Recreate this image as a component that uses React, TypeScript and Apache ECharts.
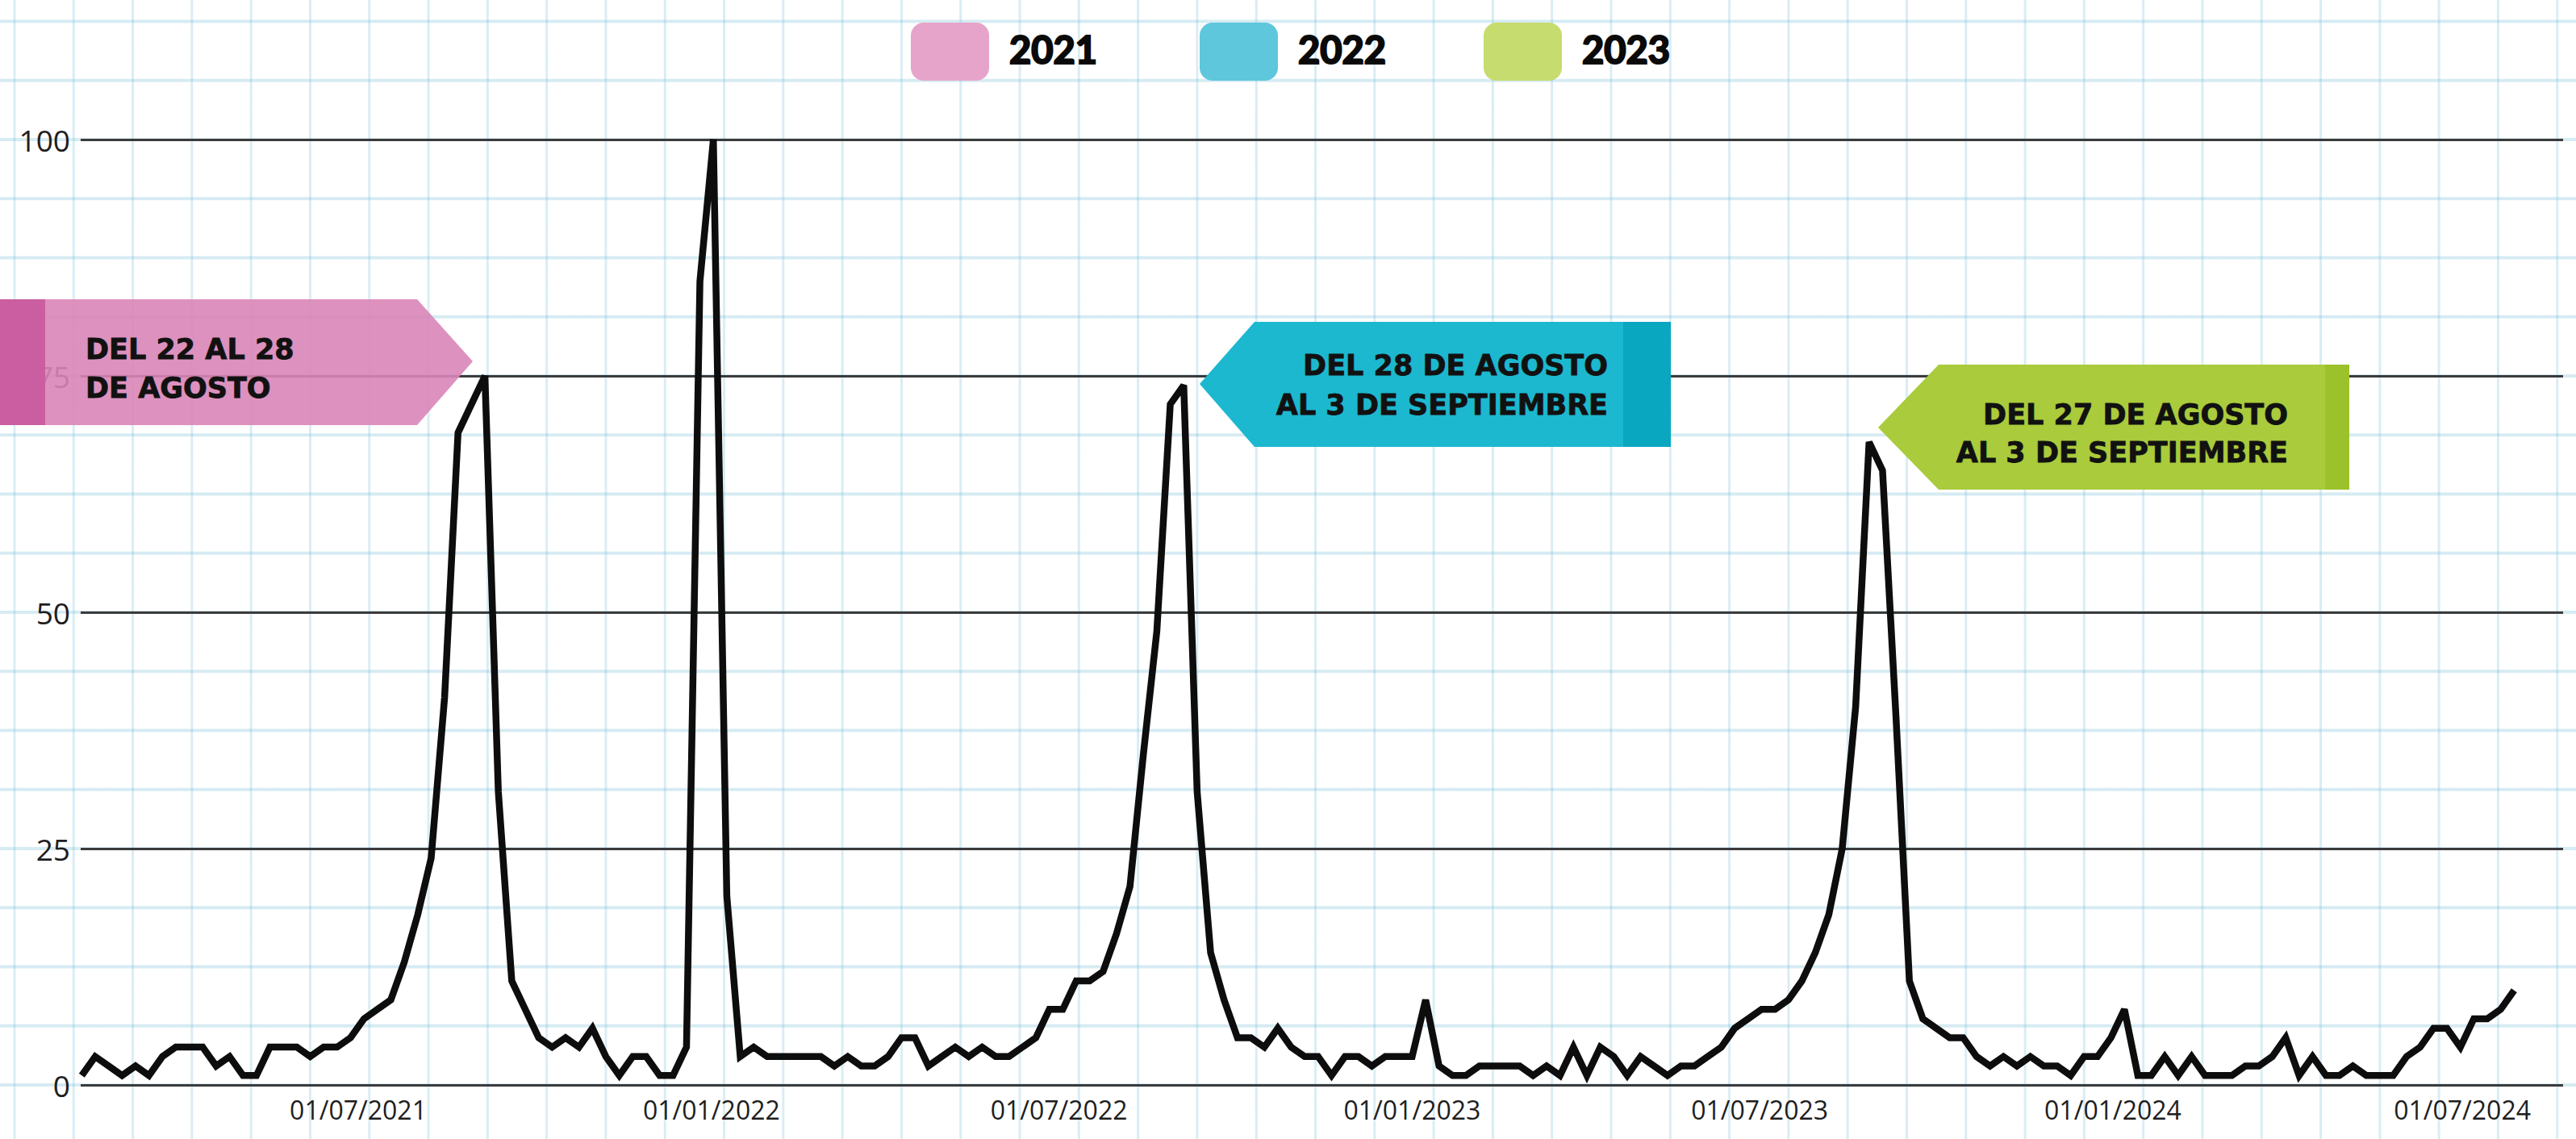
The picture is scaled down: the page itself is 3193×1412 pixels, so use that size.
import React, { useEffect, useRef } from "react";
import * as echarts from "echarts";

// Weekly values (index 0-100), each array starts on the given Sunday
const start2021: [number, number, number] = [2021, 1, 7];
const values2021 = [1, 3, 2, 1, 2, 1, 3, 4, 4, 4, 2, 3, 1, 1, 4, 4, 4, 3, 4, 4, 5, 7, 8, 9, 13, 18, 24, 41, 69, 72, 75, 31, 11, 8, 5, 4, 5, 4, 6, 3, 1, 3, 3, 1, 1, 4, 85];
const start2022: [number, number, number] = [2022, 0, 2];
const values2022 = [100, 20, 3, 4, 3, 3, 3, 3, 3, 2, 3, 2, 2, 3, 5, 5, 2, 3, 4, 3, 4, 3, 3, 4, 5, 8, 8, 11, 11, 12, 16, 21, 35, 48, 72, 74, 31, 14, 9, 5, 5, 4, 6, 4, 3, 3, 1, 3, 3, 2, 3, 3];
const start2023: [number, number, number] = [2023, 0, 1];
const values2023 = [3, 9, 2, 1, 1, 2, 2, 2, 2, 1, 2, 1, 4, 1, 4, 3, 1, 3, 2, 1, 2, 2, 3, 4, 6, 7, 8, 8, 9, 11, 14, 18, 25, 40, 68, 65, 39, 11, 7, 6, 5, 5, 3, 2, 3, 2, 3, 2, 2, 1, 3, 3, 5];
const start2024: [number, number, number] = [2024, 0, 7];
const values2024 = [8, 1, 1, 3, 1, 3, 1, 1, 1, 2, 2, 3, 5, 1, 3, 1, 1, 2, 1, 1, 1, 3, 4, 6, 6, 4, 7, 7, 8, 10];

const xTickDates: [number, number, number][] = [
  [2021, 6, 1], [2022, 0, 1], [2022, 6, 1], [2023, 0, 1], [2023, 6, 1], [2024, 0, 1], [2024, 6, 1],
];
const yTicks = [0, 25, 50, 75, 100];

const legendItems = [
  { label: "2021", color: "#e7a4ca" },
  { label: "2022", color: "#5ec7dc" },
  { label: "2023", color: "#c6dc6e" },
];

const bannerPink = ["DEL 22 AL 28", "DE AGOSTO"];
const bannerCyan = ["DEL 28 DE AGOSTO", "AL 3 DE SEPTIEMBRE"];
const bannerGreen = ["DEL 27 DE AGOSTO", "AL 3 DE SEPTIEMBRE"];

function weekly(start: [number, number, number], vals: number[]) {
  return vals.map((v, i) => [new Date(start[0], start[1], start[2] + 7 * i).getTime(), v]);
}

const pad = (n: number) => (n < 10 ? "0" + n : "" + n);

export default function App() {
  const ref = useRef<HTMLDivElement>(null);
  useEffect(() => {
    if (!ref.current) return;
    const chart = echarts.init(ref.current, undefined, { renderer: "svg" });
    const data = [
      ...weekly(start2021, values2021),
      ...weekly(start2022, values2022),
      ...weekly(start2023, values2023),
      ...weekly(start2024, values2024),
    ];
    const bannerText = (lines: string[], x: number, ys: number[], align: string) =>
      lines.map((t, i) => ({
        type: "text",
        z: 20,
        style: {
          text: t,
          x,
          y: ys[i],
          fill: "#111111",
          stroke: "#111111",
          lineWidth: 0.8,
          fontSize: 35,
          fontWeight: "bold",
          fontFamily: "DejaVu Sans",
          textAlign: align,
          textVerticalAlign: "middle",
        },
      }));
    const legendGraphics: any[] = [];
    const legendX = [1129, 1487, 1839];
    legendItems.forEach((it, i) => {
      legendGraphics.push({
        type: "rect",
        z: 20,
        shape: { x: legendX[i], y: 28, width: 97, height: 72, r: 16 },
        style: { fill: it.color },
      });
      legendGraphics.push({
        type: "text",
        z: 20,
        style: {
          text: it.label,
          x: legendX[i] + 122,
          y: 61,
          fill: "#0a0a0a",
          stroke: "#0a0a0a",
          lineWidth: 2.2,
          fontSize: 47,
          fontWeight: "bold",
          fontFamily: "Lato",
          textAlign: "left",
          textVerticalAlign: "middle",
        },
      });
    });

    chart.setOption({
      animation: false,
      grid: { left: 100, right: 16, top: 173, bottom: 67, containLabel: false },
      xAxis: {
        type: "value",
        min: new Date(2021, 1, 6, 10, 30).getTime(),
        max: new Date(2024, 7, 22, 12, 0).getTime(),
        axisLine: { show: false },
        axisTick: { show: false },
        splitLine: { show: false },
        axisLabel: {
          customValues: xTickDates.map((d) => new Date(d[0], d[1], d[2]).getTime()),
          formatter: (v: number) => {
            const d = new Date(v);
            return pad(d.getDate()) + "/" + pad(d.getMonth() + 1) + "/" + d.getFullYear();
          },
          fontSize: 32,
          color: "#1e1e1e",
          fontFamily: "Open Sans",
          margin: 14,
        },
      },
      yAxis: {
        type: "value",
        min: yTicks[0],
        max: yTicks[yTicks.length - 1],
        interval: 25,
        axisLine: { show: false },
        axisTick: { show: false },
        axisLabel: { fontSize: 37, color: "#1e1e1e", fontFamily: "Open Sans", margin: 13 },
        splitLine: { show: true, lineStyle: { color: "#3b3b3b", width: 3 } },
      },
      series: [
        {
          type: "line",
          data,
          symbol: "none",
          lineStyle: { color: "#0d0d0d", width: 8.5, join: "miter", miterLimit: 3 },
          z: 5,
        },
      ],
      graphic: [
        {
          type: "polygon",
          z: 10,
          shape: { points: [[0, 371], [517, 371], [586, 448], [517, 527], [0, 527]] },
          style: { fill: "#d985b7", opacity: 0.9 },
        },
        { type: "rect", z: 11, shape: { x: 0, y: 371, width: 56, height: 156 }, style: { fill: "#c95c9f", opacity: 0.95 } },
        ...bannerText(bannerPink, 106, [433, 481], "left"),
        {
          type: "polygon",
          z: 10,
          shape: { points: [[1487, 476], [1555, 399], [2071, 399], [2071, 554], [1555, 554]] },
          style: { fill: "#1cb8cf" },
        },
        { type: "rect", z: 11, shape: { x: 2012, y: 399, width: 59, height: 155 }, style: { fill: "#0aa7c1" } },
        ...bannerText(bannerCyan, 1993, [453, 502], "right"),
        {
          type: "polygon",
          z: 10,
          shape: { points: [[2328, 530], [2403, 452], [2912, 452], [2912, 607], [2403, 607]] },
          style: { fill: "#a9cb3c" },
        },
        { type: "rect", z: 11, shape: { x: 2882, y: 452, width: 30, height: 155 }, style: { fill: "#9cc22b" } },
        ...bannerText(bannerGreen, 2836, [514, 561], "right"),
        ...legendGraphics,
      ],
    });
    return () => chart.dispose();
  }, []);

  return (
    <div
      ref={ref}
      style={{
        position: "absolute",
        left: 0,
        top: 0,
        width: 3193,
        height: 1412,
        backgroundColor: "#ffffff",
        backgroundImage:
          "linear-gradient(to right, rgba(120,190,215,0.28) 0px, rgba(120,190,215,0.28) 3px, transparent 3px), linear-gradient(to bottom, rgba(120,190,215,0.3) 0px, rgba(120,190,215,0.3) 4px, transparent 4px)",
        backgroundSize: "73.3px 73.25px",
        backgroundPosition: "16.5px 24.5px",
      }}
    />
  );
}
